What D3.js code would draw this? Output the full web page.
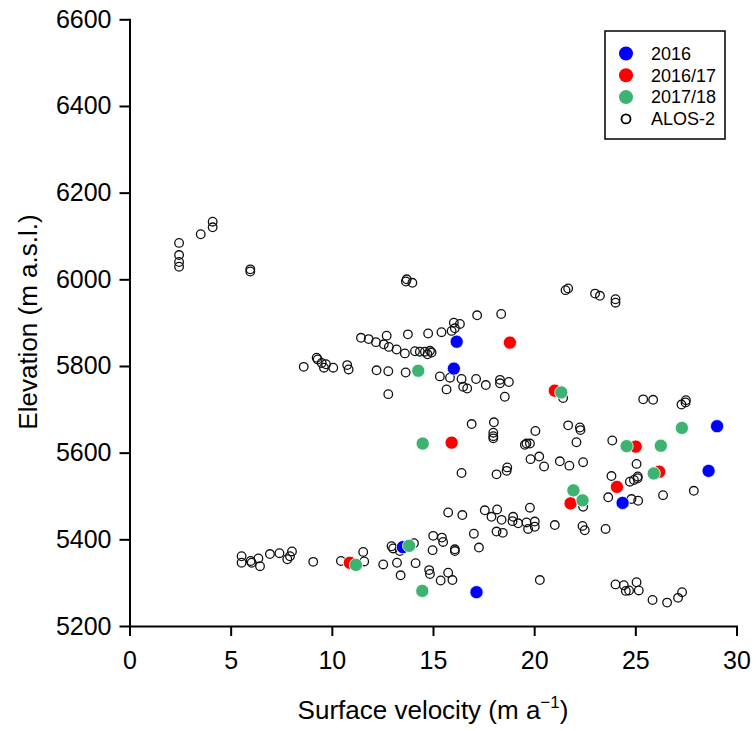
<!DOCTYPE html>
<html>
<head>
<meta charset="utf-8">
<script src="https://cdn.jsdelivr.net/npm/d3@7"></script>
<style>
  body { margin: 0; background: #fff; }
  text { font-family: "Liberation Sans", Arial, sans-serif; fill: #000; }
</style>
</head>
<body>
<svg width="756" height="731"></svg>
<script>
// surface velocity (m/a), elevation (m a.s.l.)
const alos2 = [
  [2.45,6084],[2.45,6056],[2.45,6040],[2.45,6029],[3.52,6104],[4.11,6120],[4.11,6133],[5.97,6023],[5.97,6018],
  [13.70,6000],[13.66,5995],[13.98,5992],
  [21.55,5975],[21.68,5979],[23.01,5967],[23.25,5962],[24.02,5954],[24.02,5946],
  [17.18,5917],[18.37,5920],[16.03,5900],[16.33,5897],[16.08,5887],[15.92,5881],[15.42,5878],[14.76,5875],
  [13.76,5873],[12.71,5870],[11.44,5865],[11.82,5862],[12.18,5855],[12.57,5850],[12.82,5844],[13.20,5838],
  [13.61,5829],[14.11,5834],[14.35,5833],[14.60,5833],[14.73,5827],[14.85,5835],[14.93,5831],
  [9.25,5819],[9.30,5815],[9.50,5807],[9.71,5804],[9.61,5796],[10.07,5796],[8.61,5798],[10.76,5802],[10.83,5792],
  [12.21,5790],[12.79,5788],[13.65,5785],[15.34,5776],[15.84,5773],[16.41,5770],[17.13,5770],[16.49,5752],
  [16.69,5748],[15.67,5746],[17.61,5756],[18.31,5768],[18.31,5760],[18.75,5763],[18.55,5729],[12.79,5735],
  [21.43,5726],[25.39,5723],[25.88,5722],[27.28,5711],[27.48,5716],[27.50,5721],
  [16.91,5666],[18.01,5670],[17.98,5646],[17.98,5638],[17.98,5633],[20.06,5650],[21.68,5663],[22.26,5658],
  [22.29,5652],[19.54,5618],[19.62,5621],[19.79,5621],[22.09,5624],[23.86,5628],[19.82,5585],[20.25,5591],
  [20.49,5568],[21.27,5580],[21.74,5570],[22.42,5578],[25.06,5574],[23.82,5546],[24.73,5533],[24.93,5537],
  [25.11,5541],[25.12,5545],[16.41,5553],[18.14,5550],[18.64,5558],[18.67,5566],[23.66,5497],[24.81,5493],
  [25.14,5489],[26.37,5502],[27.89,5512],[22.42,5475],[19.79,5473],
  [17.56,5467],[18.17,5469],[17.89,5452],[18.39,5445],[18.96,5452],[18.93,5442],[19.21,5437],[19.62,5439],
  [20.03,5441],[20.03,5429],[19.70,5424],[21.02,5433],[22.39,5431],[22.50,5421],[23.53,5424],[18.14,5418],
  [18.45,5415],[17.02,5413],[15.75,5462],[16.45,5456],[15.01,5408],[15.44,5404],[15.50,5394],[14.98,5375],
  [16.08,5377],[16.08,5373],[17.27,5381],[14.06,5391],[12.95,5384],[13.03,5379],[13.36,5373],[12.54,5342],
  [13.22,5346],[13.40,5317],[14.14,5345],[14.81,5329],[14.85,5320],[15.38,5305],[15.75,5323],[15.96,5306],
  [20.28,5306],[24.02,5296],[24.43,5294],[24.53,5281],[24.69,5282],[25.06,5301],[25.17,5282],[25.85,5260],
  [26.57,5254],[27.11,5265],[27.31,5278],
  [5.54,5361],[5.54,5346],[5.99,5350],[6.04,5346],[6.37,5356],[6.45,5338],[6.94,5366],[7.41,5368],
  [7.80,5354],[7.93,5361],[8.03,5372],[9.08,5348],[10.45,5350],[11.55,5371],[11.60,5349]
];

const y2016 = [
  [16.17,5856],[16.03,5794],[29.04,5661],[28.62,5558],[24.37,5484],[13.51,5382],[17.15,5278]
];

const y201617 = [
  [18.80,5854],[21.02,5743],[15.92,5623],[25.02,5614],[26.18,5556],[24.09,5521],[21.80,5483],[10.89,5346]
];

const y201718 = [
  [14.27,5789],[21.34,5739],[14.49,5621],[24.57,5615],[26.26,5616],[27.30,5657],[25.91,5552],
  [21.94,5513],[22.39,5490],[13.82,5385],[11.19,5341],[14.47,5281]
];

const xTicks = [0, 5, 10, 15, 20, 25, 30];
const yTicks = [5200, 5400, 5600, 5800, 6000, 6200, 6400, 6600];
const legendLabels = ["2016", "2016/17", "2017/18", "ALOS-2"];
const legendColors = ["#0000ff", "#ff0000", "#3cb371", null];

const svg = d3.select("svg");
svg.append("rect").attr("width", 756).attr("height", 731).attr("fill", "#fff");

const xScale = d3.scaleLinear().domain([0, 30]).range([129.5, 736.5]);
const yScale = d3.scaleLinear().domain([5200, 6600]).range([626, 19.3]);

// axes
const xAxisG = svg.append("g")
  .attr("transform", "translate(0,626)")
  .call(d3.axisBottom(xScale).tickValues(xTicks).tickFormat(d3.format("d"))
    .tickSize(10).tickSizeOuter(0).tickPadding(15));

const yAxisG = svg.append("g")
  .attr("transform", "translate(129.5,0)")
  .call(d3.axisLeft(yScale).tickValues(yTicks).tickFormat(d3.format("d"))
    .tickSize(10).tickSizeOuter(0).tickPadding(8));

[xAxisG, yAxisG].forEach((g) => {
  g.attr("font-family", null).attr("font-size", null);
  g.selectAll(".domain").attr("stroke", "#000").attr("stroke-width", 2).attr("stroke-linecap", "square");
  g.selectAll(".tick line").attr("stroke", "#000").attr("stroke-width", 2);
  g.selectAll(".tick text").style("font-size", "25px");
});

// axis titles
svg.append("text")
  .attr("transform", "rotate(-90)")
  .attr("x", -322)
  .attr("y", 37)
  .attr("text-anchor", "middle")
  .style("font-size", "26px")
  .text("Elevation (m a.s.l.)");

const xt = svg.append("text")
  .attr("x", 433)
  .attr("y", 719)
  .attr("text-anchor", "middle")
  .style("font-size", "26px");
xt.append("tspan").text("Surface velocity (m a");
xt.append("tspan").attr("dy", -11).style("font-size", "17px").text("\u22121");
xt.append("tspan").attr("dy", 11).text(")");

// points
const plot = svg.append("g");

plot.selectAll("circle.alos")
  .data(alos2)
  .enter()
  .append("circle")
  .attr("class", "alos")
  .attr("cx", (d) => xScale(d[0]))
  .attr("cy", (d) => yScale(d[1]))
  .attr("r", 4.3)
  .attr("fill", "none")
  .attr("stroke", "#111")
  .attr("stroke-width", 1.3);

const series = [y2016, y201617, y201718];
series.forEach((data, i) => {
  plot.append("g")
    .selectAll("circle")
    .data(data)
    .enter()
    .append("circle")
    .attr("cx", (d) => xScale(d[0]))
    .attr("cy", (d) => yScale(d[1]))
    .attr("r", 6.6)
    .attr("fill", legendColors[i])
    .attr("stroke", "#fff")
    .attr("stroke-width", 0.8);
});

// legend
const legend = svg.append("g");
legend.append("rect")
  .attr("x", 605).attr("y", 31)
  .attr("width", 120).attr("height", 108)
  .attr("fill", "#fff")
  .attr("stroke", "#000")
  .attr("stroke-width", 1.5);

legendLabels.forEach((label, i) => {
  const ly = 53.5 + i * 21.8;
  if (legendColors[i]) {
    legend.append("circle").attr("cx", 626).attr("cy", ly).attr("r", 7).attr("fill", legendColors[i]);
  } else {
    legend.append("circle").attr("cx", 626).attr("cy", ly).attr("r", 4.5)
      .attr("fill", "none").attr("stroke", "#000").attr("stroke-width", 1.8);
  }
  legend.append("text")
    .attr("x", 651)
    .attr("y", ly)
    .attr("dy", "0.35em")
    .style("font-size", "18px")
    .text(label);
});
</script>
</body>
</html>
